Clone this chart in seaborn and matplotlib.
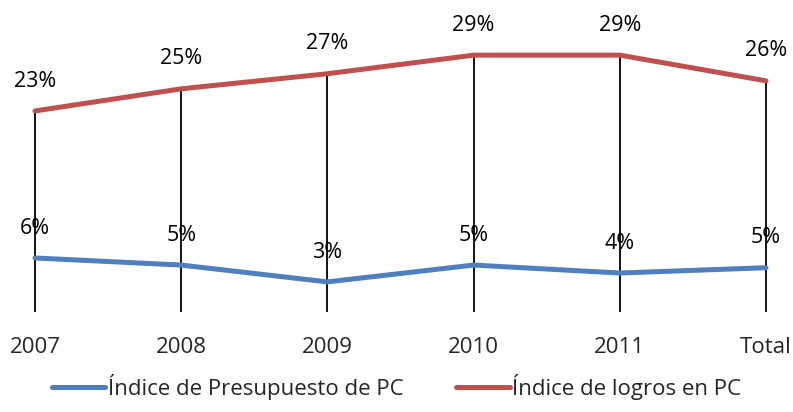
import matplotlib
matplotlib.use("Agg")
import matplotlib.pyplot as plt
import seaborn as sns
import pandas as pd
from matplotlib.lines import Line2D

categories = ["2007", "2008", "2009", "2010", "2011", "Total"]
presupuesto = [0.061, 0.053, 0.034, 0.053, 0.044, 0.050]
logros = [0.227, 0.252, 0.269, 0.290, 0.290, 0.261]
series_names = ["Índice de Presupuesto de PC", "Índice de logros en PC"]
colors = ["#4F7FBE", "#C0504D"]

sns.set_theme(style="white")
plt.rcParams["font.family"] = ["Open Sans", "DejaVu Sans"]

df = pd.DataFrame({
    "cat": categories * 2,
    "val": presupuesto + logros,
    "serie": [series_names[0]] * len(categories) + [series_names[1]] * len(categories),
})

fig = plt.figure(figsize=(7.93, 4.12), dpi=100)
ax = fig.add_axes([35 / 793, 100 / 412, (766 - 35) / 793, 310 / 412])

pos = list(range(len(categories)))
ax.vlines(pos, 0, [max(a, b) for a, b in zip(presupuesto, logros)], color="black",
          lw=1.3, zorder=1, clip_on=False)

sns.lineplot(data=df, x="cat", y="val", hue="serie", palette=colors, lw=3.6,
             ax=ax, sort=False, legend=False, zorder=3)
for ln in ax.lines:
    ln.set_clip_on(False)

for vals in (presupuesto, logros):
    for i, v in enumerate(vals):
        ax.annotate(f"{v:.0%}", (i, v), xytext=(0, 21.5), textcoords="offset points",
                    ha="center", va="center", fontsize=15.5, color="black", zorder=4)

ax.set_xlim(0, len(categories) - 1)
ax.set_ylim(0, 0.35)
ax.set_xticks(pos)
ax.set_xticklabels(categories, fontsize=16)
ax.tick_params(axis="x", length=0, pad=18)
ax.set_yticks([])
ax.set_xlabel("")
ax.set_ylabel("")
for s in ax.spines.values():
    s.set_visible(False)

handles = [Line2D([0], [0], color=c, lw=3.6) for c in colors]
fig.legend(handles, series_names, loc="center", bbox_to_anchor=(0.5, 25 / 412), ncol=2,
           frameon=False, fontsize=16, handlelength=2.4, handletextpad=0.1, columnspacing=2.4)

fig.savefig("out.png", dpi=100)
